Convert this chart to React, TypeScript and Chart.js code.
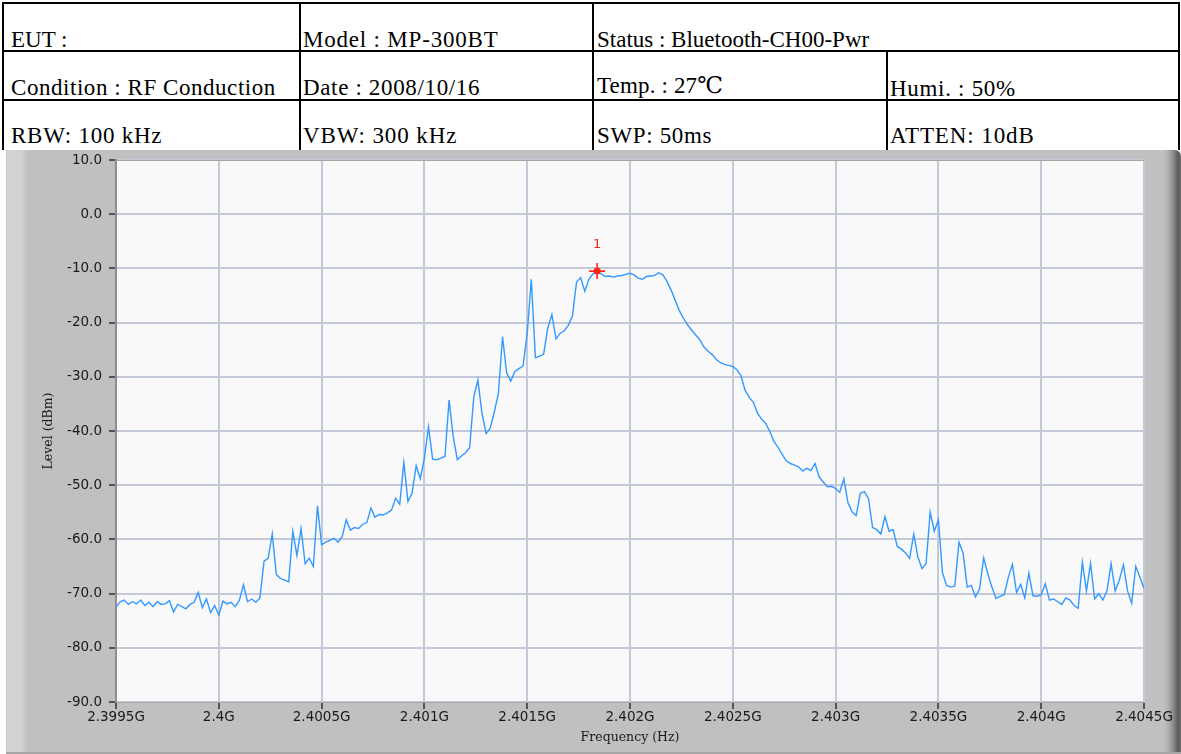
import React, { useEffect, useRef } from "react";
import { Chart, registerables } from "chart.js";

Chart.register(...registerables);

// ---------- Data ----------
const freqStartMHz = 2399.5;
const freqStepMHz = 0.02;

const levelsDbm: number[] = [
  -72.5, -71.5, -71.2, -72.0, -71.5, -71.9, -71.2, -72.2, -71.6, -72.4,
  -71.5, -72.0, -71.9, -71.3, -73.4, -72.0, -72.4, -72.8, -72.0, -71.6,
  -69.8, -72.6, -71.0, -73.5, -72.2, -74.0, -71.4, -71.9, -71.6, -72.4,
  -71.2, -68.4, -71.5, -71.0, -71.6, -70.8, -64.0, -63.5, -59.0, -66.5,
  -67.2, -67.5, -67.8, -58.5, -63.0, -58.0, -64.5, -63.5, -65.0, -53.8,
  -61.0, -60.5, -60.2, -59.8, -60.5, -59.5, -56.4, -58.3, -57.8, -58.0,
  -57.2, -56.9, -54.2, -55.9, -55.4, -55.5, -55.1, -54.6, -52.4, -53.5,
  -45.8, -53.0, -51.5, -46.4, -48.8, -45.0, -39.2, -45.2, -45.3, -45.0,
  -44.7, -34.3, -41.0, -45.3, -44.6, -44.0, -43.1, -33.8, -30.6, -36.7,
  -40.5, -39.5, -36.5, -33.0, -22.6, -29.3, -30.8, -29.0, -28.5, -28.0,
  -22.0, -12.0, -26.5, -26.2, -25.8, -21.0, -18.5, -23.0, -22.0, -21.5,
  -20.5, -18.8, -12.5, -11.7, -14.2, -12.0, -11.0, -10.5, -11.0, -11.5,
  -11.4, -11.6, -11.4, -11.3, -11.1, -10.9, -11.2, -11.8, -12.0, -11.5,
  -11.4, -11.3, -10.8, -11.2, -12.4, -14.0, -15.9, -17.8, -19.2, -20.4,
  -21.4, -22.3, -23.2, -24.5, -25.3, -25.9, -26.8, -27.4, -27.7, -27.9,
  -28.1, -28.7, -29.8, -32.5, -33.8, -34.7, -36.7, -37.8, -38.6, -40.1,
  -41.9, -43.0, -44.3, -45.5, -46.0, -46.3, -46.6, -47.4, -46.9, -47.3,
  -46.0, -48.5, -49.4, -50.3, -50.2, -50.6, -51.3, -48.8, -53.2, -54.9,
  -55.6, -51.5, -51.2, -52.5, -57.8, -58.2, -59.0, -55.8, -58.5, -58.2,
  -61.3, -61.8, -62.5, -63.5, -59.0, -63.2, -65.4, -64.5, -55.0, -58.5,
  -56.4, -66.2, -68.5, -68.8, -68.6, -60.5, -62.5, -68.8, -68.5, -70.6,
  -69.2, -63.4, -66.3, -68.8, -70.9, -70.5, -70.2, -67.0, -64.6, -69.8,
  -68.3, -70.8, -66.2, -70.4, -70.5, -70.2, -68.2, -71.2, -71.0, -71.5,
  -72.0, -70.8, -71.2, -72.2, -72.7, -64.2, -69.5, -64.4, -71.0, -70.0,
  -71.2, -69.5, -64.5, -69.5, -67.5, -64.7, -69.5, -71.8, -65.0, -67.0,
  -69.0,
];

const xTickValues = [2399.5, 2400, 2400.5, 2401, 2401.5, 2402, 2402.5, 2403, 2403.5, 2404, 2404.5];
const xTickLabels = ["2.3995G", "2.4G", "2.4005G", "2.401G", "2.4015G", "2.402G", "2.4025G", "2.403G", "2.4035G", "2.404G", "2.4045G"];
const yTickValues = [-90, -80, -70, -60, -50, -40, -30, -20, -10, 0, 10];
const yTickLabels = ["-90.0", "-80.0", "-70.0", "-60.0", "-50.0", "-40.0", "-30.0", "-20.0", "-10.0", "0.0", "10.0"];

const markerFreqMHz = [2401.84];
const markerLevelDbm = [-10.5];
const markerLabels = ["1"];

const xAxisTitle = "Frequency (Hz)";
const yAxisTitle = "Level (dBm)";

// header table texts
const headerRow1 = ["EUT :", "Model : MP-300BT", "Status : Bluetooth-CH00-Pwr"];
const headerRow2 = ["Condition : RF Conduction", "Date : 2008/10/16", "Temp. : 27\u2103", "Humi. : 50%"];
const headerRow3 = ["RBW: 100 kHz", "VBW: 300 kHz", "SWP: 50ms", "ATTEN: 10dB"];

// ---------- Layout constants ----------
const CANVAS_LEFT = 6;
const CANVAS_TOP = 150;
const CANVAS_W = 1175;
const CANVAS_H = 604;

const row1Spacing = [0, 0.8, 0];
const row2Spacing = [0.55, 0.65, 0.15, 0.7];
const row3Spacing = [0.75, 0.9, 0.65, 0.9];

const markerLabelPlugin = {
  id: "markerLabel",
  afterDatasetsDraw(chart: any) {
    const { ctx, scales } = chart;
    ctx.save();
    ctx.fillStyle = "#ff2418";
    ctx.font = '13px "DejaVu Sans"';
    ctx.textAlign = "center";
    ctx.textBaseline = "middle";
    markerFreqMHz.forEach((f, k) => {
      const px = scales.x.getPixelForValue(f);
      const py = scales.y.getPixelForValue(markerLevelDbm[k]);
      ctx.fillText(markerLabels[k], px, py - 26);
    });
    ctx.restore();
  },
};

const plotBgPlugin = {
  id: "plotBg",
  beforeDraw(chart: any) {
    const { ctx, chartArea } = chart;
    const { left, top, width, height } = chartArea;
    ctx.save();
    ctx.fillStyle = "#f9f9f9";
    ctx.fillRect(left, top, width, height);
    ctx.restore();
  },
  afterDraw(chart: any) {
    const { ctx, chartArea } = chart;
    ctx.save();
    ctx.strokeStyle = "#a6a6a6";
    ctx.lineWidth = 1;
    ctx.beginPath();
    ctx.moveTo(chartArea.left, chartArea.top + 0.5);
    ctx.lineTo(chartArea.right, chartArea.top + 0.5);
    ctx.stroke();
    ctx.restore();
  },
};

function ChartPanel() {
  const canvasRef = useRef<HTMLCanvasElement | null>(null);

  useEffect(() => {
    const canvas = canvasRef.current;
    if (!canvas) return;
    const traceData = levelsDbm.map((v, i) => ({ x: freqStartMHz + i * freqStepMHz, y: v }));
    const markerData = markerFreqMHz.map((f, k) => ({ x: f, y: markerLevelDbm[k] }));

    const chart = new Chart(canvas, {
      type: "line",
      data: {
        datasets: [
          {
            label: "Trace",
            data: traceData,
            borderColor: "#3399ff",
            borderWidth: 1.4,
            pointRadius: 0,
            tension: 0,
            fill: false,
            order: 3,
          },
          {
            label: "Marker",
            data: markerData,
            showLine: false,
            pointStyle: "cross",
            pointRadius: 8,
            borderColor: "#ff2418",
            borderWidth: 1.6,
            order: 2,
          },
          {
            label: "MarkerDot",
            data: markerData,
            showLine: false,
            pointStyle: "circle",
            pointRadius: 3.5,
            backgroundColor: "#ff2418",
            borderColor: "#ff2418",
            borderWidth: 0,
            order: 1,
          },
        ],
      } as any,
      options: {
        responsive: false,
        animation: false,
        events: [],
        layout: { padding: { top: 10, right: 37, bottom: 0, left: 0 } },
        plugins: {
          legend: { display: false },
          tooltip: { enabled: false },
        },
        scales: {
          x: {
            type: "linear",
            min: xTickValues[0],
            max: xTickValues[xTickValues.length - 1],
            afterBuildTicks: (s: any) => {
              s.ticks = xTickValues.map((v) => ({ value: v }));
            },
            afterFit: (s: any) => {
              s.height = 52;
            },
            grid: {
              color: "#c4c9da",
              lineWidth: 2,
              drawTicks: true,
              tickLength: 7,
              tickColor: "#303030",
              tickWidth: 1.5,
            },
            border: { display: true, color: "#a8a8a8", width: 1 },
            ticks: {
              padding: 0,
              autoSkip: false,
              maxRotation: 0,
              color: "#1a1a1a",
              font: { family: "DejaVu Sans", size: 13.5 },
              callback: (v: any) => {
                const idx = xTickValues.findIndex((t) => Math.abs(t - Number(v)) < 1e-6);
                return idx >= 0 ? xTickLabels[idx] : "";
              },
            },
            title: {
              display: true,
              text: xAxisTitle,
              color: "#1a1a1a",
              font: { family: "DejaVu Serif", size: 12.5 },
              padding: { top: 0, bottom: 8.5 },
            },
          },
          y: {
            type: "linear",
            min: yTickValues[0],
            max: yTickValues[yTickValues.length - 1],
            afterBuildTicks: (s: any) => {
              s.ticks = yTickValues.map((v) => ({ value: v }));
            },
            afterFit: (s: any) => {
              s.width = 110;
              s.paddingTop = 0;
              s.paddingBottom = 0;
            },
            grid: {
              color: "#c4c9da",
              lineWidth: 2,
              drawTicks: true,
              tickLength: 7,
              tickColor: "#303030",
              tickWidth: 1.5,
            },
            border: { display: true, color: "#8e8e8e", width: 2 },
            ticks: {
              padding: 7,
              autoSkip: false,
              color: "#1a1a1a",
              font: { family: "DejaVu Sans", size: 13.5 },
              callback: (v: any) => {
                const idx = yTickValues.findIndex((t) => Math.abs(t - Number(v)) < 1e-6);
                return idx >= 0 ? yTickLabels[idx] : "";
              },
            },
            title: {
              display: true,
              text: yAxisTitle,
              color: "#1a1a1a",
              font: { family: "DejaVu Serif", size: 12.5 },
              padding: { top: 35.5, bottom: 0 },
            },
          },
        },
      } as any,
      plugins: [plotBgPlugin, markerLabelPlugin],
    });
    return () => chart.destroy();
  }, []);

  return (
    <canvas
      ref={canvasRef}
      width={CANVAS_W}
      height={CANVAS_H}
      style={{ position: "absolute", left: CANVAS_LEFT, top: CANVAS_TOP, width: CANVAS_W, height: CANVAS_H }}
    />
  );
}

const FONT_SIZE = 23;
const BASE_OFFSET = 19.3;

function Txt({ x, baseline, spacing, children }: { x: number; baseline: number; spacing: number; children: React.ReactNode }) {
  return (
    <div
      style={{
        position: "absolute",
        left: x,
        top: baseline - BASE_OFFSET,
        fontFamily: "'Liberation Serif', 'DejaVu Serif', 'Noto Sans CJK TC', serif",
        fontSize: FONT_SIZE,
        lineHeight: `${FONT_SIZE}px`,
        letterSpacing: `${spacing}px`,
        color: "#000",
        whiteSpace: "nowrap",
      }}
    >
      {children}
    </div>
  );
}

function Line({ x, y, w, h }: { x: number; y: number; w: number; h: number }) {
  return <div style={{ position: "absolute", left: x, top: y, width: w, height: h, background: "#000" }} />;
}

function HeaderTable() {
  const colX = [11, 303, 597, 890];
  return (
    <>
      {/* borders */}
      <Line x={2} y={2} w={1178} h={2} />
      <Line x={2} y={50} w={1178} h={2} />
      <Line x={2} y={99} w={1178} h={2} />
      <Line x={2} y={2} w={2} h={148} />
      <Line x={299} y={2} w={2} h={148} />
      <Line x={592} y={2} w={2} h={148} />
      <Line x={886} y={50} w={2} h={100} />
      <Line x={1178} y={2} w={2} h={148} />
      {/* texts */}
      {headerRow1.map((t, i) => (
        <Txt key={"r1" + i} x={colX[i]} baseline={47} spacing={row1Spacing[i]}>{t}</Txt>
      ))}
      {headerRow2.map((t, i) => (
        <Txt key={"r2" + i} x={colX[i]} baseline={i === 2 ? 93 : i === 3 ? 96 : 95} spacing={row2Spacing[i]}>{t}</Txt>
      ))}
      {headerRow3.map((t, i) => (
        <Txt key={"r3" + i} x={colX[i]} baseline={143} spacing={row3Spacing[i]}>{t}</Txt>
      ))}
    </>
  );
}

export default function App() {
  return (
    <div style={{ position: "absolute", left: 0, top: 0, width: 1181, height: 754, background: "#fff", overflow: "hidden" }}>
      <HeaderTable />
      <div
        style={{
          position: "absolute",
          left: CANVAS_LEFT,
          top: CANVAS_TOP,
          width: CANVAS_W,
          height: CANVAS_H,
          borderTopRightRadius: 6,
          background:
            "linear-gradient(to right, #bcbcbc 0px, #d5d5d5 1px, #d1d1d1 16px, #c2c2c2 21px, #c0c0c0 24px, #c0c0c0 calc(100% - 17px), #b2b2b2 calc(100% - 13px), #8c8c8c calc(100% - 8px), #5c5c5c calc(100% - 3px), #6e6e6e 100%)",
          boxShadow: "inset 0 -2px 0 #a6a6a6",
        }}
      />
      <ChartPanel />
    </div>
  );
}
